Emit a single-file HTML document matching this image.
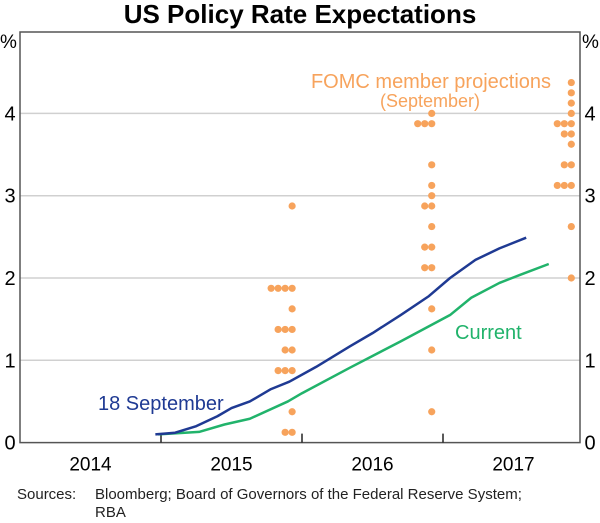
<!DOCTYPE html>
<html><head><meta charset="utf-8"><style>
body{margin:0;background:#fff;}
svg text{font-family:"Liberation Sans",Arial,sans-serif;}
</style></head><body>
<svg width="600" height="518" xmlns="http://www.w3.org/2000/svg" id="chart">
<text x="300" y="23" text-anchor="middle" font-size="26" font-weight="bold" fill="#000">US Policy Rate Expectations</text>
<g id="grid"></g>
<g id="marks"></g>
<text x="0" y="48" font-size="19">%</text>
<text x="582" y="48" font-size="19">%</text>
<text x="431" y="88" text-anchor="middle" font-size="20" fill="#f7a35c">FOMC member projections</text>
<text x="430" y="107" text-anchor="middle" font-size="18" fill="#f7a35c">(September)</text>
<text x="98" y="410" font-size="20" fill="#1f3a93">18 September</text>
<text x="455" y="339" font-size="20" fill="#21b36b">Current</text>
<text x="17" y="499" font-size="15" fill="#222">Sources:</text>
<text x="95" y="499" font-size="15" fill="#222">Bloomberg; Board of Governors of the Federal Reserve System;</text>
<text x="95" y="517" font-size="15" fill="#222">RBA</text>
</svg>
<script>
const yTicks=[0,1,2,3,4];
const years=[2014,2015,2016,2017];
const blueT=[2014.96,2015.1,2015.25,2015.4,2015.5,2015.63,2015.78,2015.91,2016.1,2016.34,2016.5,2016.7,2016.9,2017.05,2017.23,2017.4,2017.59];
const blueV=[0.10,0.12,0.2,0.32,0.42,0.5,0.65,0.74,0.92,1.17,1.33,1.55,1.78,2.0,2.22,2.36,2.49];
const greenT=[2014.98,2015.27,2015.45,2015.63,2015.9,2016.0,2016.34,2016.7,2017.05,2017.2,2017.4,2017.55,2017.75];
const greenV=[0.1,0.13,0.22,0.29,0.5,0.6,0.91,1.23,1.55,1.76,1.94,2.04,2.17];
const dotDates=[2015.93,2016.92,2017.91];
const dotLevels2015=[2.875,1.875,1.625,1.375,1.125,0.875,0.375,0.125];
const dotCounts2015=[1,4,1,3,2,3,1,2];
const dotLevels2016=[4.0,3.875,3.375,3.125,3.0,2.875,2.625,2.375,2.125,1.625,1.125,0.375];
const dotCounts2016=[1,3,1,1,1,2,1,2,2,1,1,1];
const dotLevels2017=[4.375,4.25,4.125,4.0,3.875,3.75,3.625,3.375,3.125,2.625,2.0];
const dotCounts2017=[1,1,1,1,3,2,1,2,3,1,1];

const NS='http://www.w3.org/2000/svg';
const X0=20,X1=580,Y0=442.6,YS=82.3;
const x=t=>X0+(t-2014)*141;
const y=v=>Y0-v*YS;
const grid=document.getElementById('grid'),marks=document.getElementById('marks');
function mk(tag,a,p){const e=document.createElementNS(NS,tag);for(const k in a)e.setAttribute(k,a[k]);p.appendChild(e);return e;}
yTicks.forEach(v=>{
  if(v>0){const g=mk('line',{x1:X0,x2:X1,y1:y(v),y2:y(v),stroke:'#d0d0d0','stroke-width':1.5},grid);
  
  }
  const l=mk('text',{x:10,y:y(v)+7,'text-anchor':'middle','font-size':20},grid);l.textContent=v;
  
  
  const r=mk('text',{x:590,y:y(v)+7,'text-anchor':'middle','font-size':20},grid);r.textContent=v;
  
  
});
const fr=mk('rect',{x:X0,y:32,width:X1-X0,height:Y0-32,fill:'none',stroke:'#555','stroke-width':1.5},grid);


years.forEach(yr=>{
  const t=mk('text',{x:x(yr+0.5),y:Y0+28,'text-anchor':'middle','font-size':19},grid);t.textContent=yr;
  
  
  if(yr<2017){const tk=mk('line',{x1:x(yr+1),x2:x(yr+1),y1:Y0,y2:Y0-9,stroke:'#222','stroke-width':1.5},grid);
  
  }
});
const sets=[[dotLevels2015,dotCounts2015],[dotLevels2016,dotCounts2016],[dotLevels2017,dotCounts2017]];
sets.forEach((s,i)=>{s[0].forEach((lv,j)=>{for(let k=0;k<s[1][j];k++){
  const c=mk('circle',{cx:x(dotDates[i])-k*7,cy:y(lv),r:3.6,fill:'#f7a35c'},marks);
  
  
}});});
function line(T,V,col,name){const p=mk('polyline',{points:T.map((t,i)=>x(t)+','+y(V[i])).join(' '),fill:'none',stroke:col,'stroke-width':2.5,'stroke-linejoin':'round'},marks);
  
  }
line(greenT,greenV,'#21b36b','current-line');
line(blueT,blueV,'#1f3a93','18-september-line');
</script>
</body></html>
